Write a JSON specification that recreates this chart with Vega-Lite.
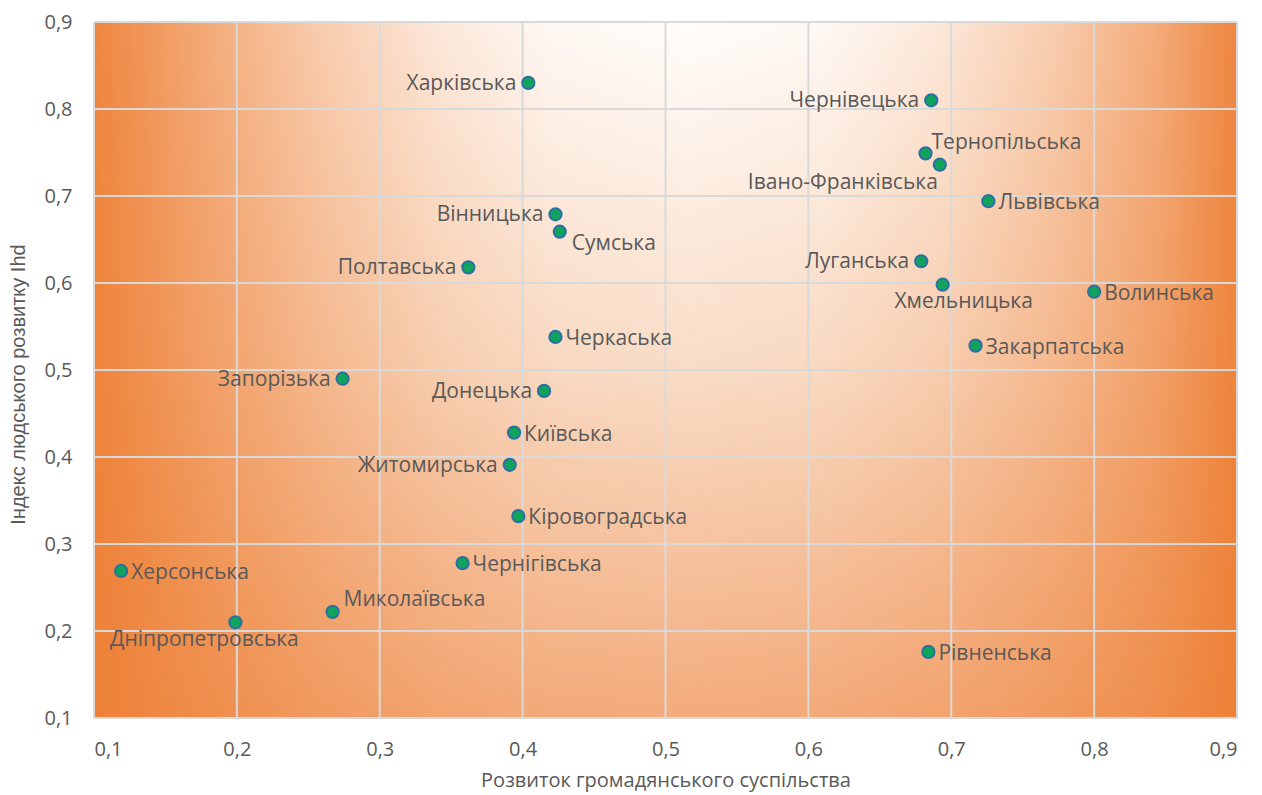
{
  "$schema": "https://vega.github.io/schema/vega-lite/v6.json",
  "width": 1143,
  "height": 696,
  "autosize": "none",
  "padding": {"left": 94, "top": 22, "right": 25, "bottom": 77},
  "background": "white",
  "config": {
    "view": {"stroke": "#d4d4d4", "strokeWidth": 1},
    "font": "Open Sans",
    "axis": {
      "grid": false, "ticks": false, "domain": false,
      "labelFont": "Open Sans", "labelFontSize": 20, "labelColor": "#595959",
      "titleColor": "#595959", "titleFontWeight": "normal"
    }
  },
  "datasets": {
    "bg": [{"x0": 0.1, "x1": 0.9, "y0": 0.1, "y1": 0.9}],
    "grid": [{"v": 0.1}, {"v": 0.2}, {"v": 0.3}, {"v": 0.4}, {"v": 0.5}, {"v": 0.6}, {"v": 0.7}, {"v": 0.8}, {"v": 0.9}],
    "regions": [
      {"name": "Харківська", "civil": 0.404, "ihd": 0.830},
      {"name": "Чернівецька", "civil": 0.686, "ihd": 0.810},
      {"name": "Тернопільська", "civil": 0.682, "ihd": 0.749},
      {"name": "Івано-Франківська", "civil": 0.692, "ihd": 0.736},
      {"name": "Львівська", "civil": 0.726, "ihd": 0.694},
      {"name": "Вінницька", "civil": 0.423, "ihd": 0.679},
      {"name": "Сумська", "civil": 0.426, "ihd": 0.659},
      {"name": "Полтавська", "civil": 0.362, "ihd": 0.618},
      {"name": "Луганська", "civil": 0.679, "ihd": 0.625},
      {"name": "Хмельницька", "civil": 0.694, "ihd": 0.598},
      {"name": "Волинська", "civil": 0.800, "ihd": 0.590},
      {"name": "Черкаська", "civil": 0.423, "ihd": 0.538},
      {"name": "Закарпатська", "civil": 0.717, "ihd": 0.528},
      {"name": "Запорізька", "civil": 0.274, "ihd": 0.490},
      {"name": "Донецька", "civil": 0.415, "ihd": 0.476},
      {"name": "Київська", "civil": 0.394, "ihd": 0.428},
      {"name": "Житомирська", "civil": 0.391, "ihd": 0.391},
      {"name": "Кіровоградська", "civil": 0.397, "ihd": 0.332},
      {"name": "Чернігівська", "civil": 0.358, "ihd": 0.278},
      {"name": "Херсонська", "civil": 0.119, "ihd": 0.269},
      {"name": "Миколаївська", "civil": 0.267, "ihd": 0.222},
      {"name": "Дніпропетровська", "civil": 0.199, "ihd": 0.210},
      {"name": "Рівненська", "civil": 0.684, "ihd": 0.176}
    ]
  },
  "resolve": {"scale": {"x": "shared", "y": "shared"}},
  "layer": [
    {
      "data": {"name": "bg"},
      "mark": {
        "type": "rect",
        "fill": {
          "gradient": "linear", "x1": 0, "y1": 0, "x2": 0, "y2": 1,
          "stops": [
            {"offset": 0, "color": "#fffdfb"},
            {"offset": 0.5, "color": "#f9dcc6"},
            {"offset": 1, "color": "#f3ab7b"}
          ]
        }
      },
      "encoding": {
        "x": {
          "field": "x0", "type": "quantitative",
          "scale": {"domain": [0.1, 0.9], "nice": false, "zero": false},
          "axis": {
            "values": [0.1, 0.2, 0.3, 0.4, 0.5, 0.6, 0.7, 0.8, 0.9],
            "labelExpr": "replace(format(datum.value, '.1f'), '.', ',')",
            "labelPadding": 21,
            "title": "Розвиток громадянського суспільства",
            "titleFont": "Open Sans", "titleFontSize": 20,
            "titleBaseline": "middle", "titleY": 62
          }
        },
        "x2": {"field": "x1"},
        "y": {
          "field": "y0", "type": "quantitative",
          "scale": {"domain": [0.1, 0.9], "nice": false, "zero": false},
          "axis": {
            "values": [0.1, 0.2, 0.3, 0.4, 0.5, 0.6, 0.7, 0.8, 0.9],
            "labelExpr": "replace(format(datum.value, '.1f'), '.', ',')",
            "labelPadding": 22,
            "title": "Індекс людського розвитку Ihd",
            "titleFont": "Liberation Sans", "titleFontSize": 20,
            "titleBaseline": "middle", "titleX": -76, "titleY": 362
          }
        },
        "y2": {"field": "y1"}
      }
    },
    {
      "data": {"name": "bg"},
      "mark": {
        "type": "rect",
        "fill": {
          "gradient": "linear", "x1": 0, "y1": 0, "x2": 1, "y2": 0,
          "stops": [
            {"offset": 0, "color": "rgba(237,125,49,0.93)"},
            {"offset": 0.1, "color": "rgba(237,125,49,0.64)"},
            {"offset": 0.2, "color": "rgba(237,125,49,0.38)"},
            {"offset": 0.3, "color": "rgba(237,125,49,0.17)"},
            {"offset": 0.4, "color": "rgba(237,125,49,0.04)"},
            {"offset": 0.52, "color": "rgba(237,125,49,0)"},
            {"offset": 0.64, "color": "rgba(237,125,49,0.04)"},
            {"offset": 0.74, "color": "rgba(237,125,49,0.17)"},
            {"offset": 0.84, "color": "rgba(237,125,49,0.38)"},
            {"offset": 0.93, "color": "rgba(237,125,49,0.64)"},
            {"offset": 1, "color": "rgba(237,125,49,0.93)"}
          ]
        }
      },
      "encoding": {
        "x": {"field": "x0", "type": "quantitative"},
        "x2": {"field": "x1"},
        "y": {"field": "y0", "type": "quantitative"},
        "y2": {"field": "y1"}
      }
    },
    {
      "data": {"name": "grid"},
      "mark": {"type": "rule", "color": "#d9d9d9", "strokeWidth": 2},
      "encoding": {"x": {"field": "v", "type": "quantitative"}}
    },
    {
      "data": {"name": "grid"},
      "mark": {"type": "rule", "color": "#d9d9d9", "strokeWidth": 2},
      "encoding": {"y": {"field": "v", "type": "quantitative"}}
    },
    {
      "data": {"name": "regions"},
      "mark": {"type": "circle", "size": 150, "fill": "#0fa35b", "stroke": "#2e6fa3", "strokeWidth": 2, "opacity": 1},
      "encoding": {
        "x": {"field": "civil", "type": "quantitative"},
        "y": {"field": "ihd", "type": "quantitative"}
      }
    },
    {
      "data": {"name": "regions"},
      "transform": [{"filter": {"field": "name", "oneOf": ["Львівська", "Волинська", "Черкаська", "Закарпатська", "Київська", "Кіровоградська", "Чернігівська", "Херсонська", "Рівненська"]}}],
      "mark": {"type": "text", "align": "left", "baseline": "middle", "dx": 10, "dy": 2, "fontSize": 21, "font": "Open Sans", "color": "#595959"},
      "encoding": {
        "x": {"field": "civil", "type": "quantitative"},
        "y": {"field": "ihd", "type": "quantitative"},
        "text": {"field": "name"}
      }
    },
    {
      "data": {"name": "regions"},
      "transform": [{"filter": {"field": "name", "oneOf": ["Харківська", "Чернівецька", "Вінницька", "Полтавська", "Луганська", "Запорізька", "Донецька", "Житомирська"]}}],
      "mark": {"type": "text", "align": "right", "baseline": "middle", "dx": -12, "dy": 1, "fontSize": 21, "font": "Open Sans", "color": "#595959"},
      "encoding": {
        "x": {"field": "civil", "type": "quantitative"},
        "y": {"field": "ihd", "type": "quantitative"},
        "text": {"field": "name"}
      }
    },
    {
      "data": {"name": "regions"},
      "transform": [{"filter": {"field": "name", "oneOf": ["Тернопільська"]}}],
      "mark": {"type": "text", "align": "left", "baseline": "middle", "dx": 6, "dy": -10, "fontSize": 21, "font": "Open Sans", "color": "#595959"},
      "encoding": {
        "x": {"field": "civil", "type": "quantitative"},
        "y": {"field": "ihd", "type": "quantitative"},
        "text": {"field": "name"}
      }
    },
    {
      "data": {"name": "regions"},
      "transform": [{"filter": {"field": "name", "oneOf": ["Сумська"]}}],
      "mark": {"type": "text", "align": "left", "baseline": "middle", "dx": 12, "dy": 12, "fontSize": 21, "font": "Open Sans", "color": "#595959"},
      "encoding": {
        "x": {"field": "civil", "type": "quantitative"},
        "y": {"field": "ihd", "type": "quantitative"},
        "text": {"field": "name"}
      }
    },
    {
      "data": {"name": "regions"},
      "transform": [{"filter": {"field": "name", "oneOf": ["Миколаївська"]}}],
      "mark": {"type": "text", "align": "left", "baseline": "middle", "dx": 11, "dy": -12, "fontSize": 21, "font": "Open Sans", "color": "#595959"},
      "encoding": {
        "x": {"field": "civil", "type": "quantitative"},
        "y": {"field": "ihd", "type": "quantitative"},
        "text": {"field": "name"}
      }
    },
    {
      "data": {"name": "regions"},
      "transform": [{"filter": {"field": "name", "oneOf": ["Івано-Франківська"]}}],
      "mark": {"type": "text", "align": "right", "baseline": "middle", "dx": -2, "dy": 18, "fontSize": 21, "font": "Open Sans", "color": "#595959"},
      "encoding": {
        "x": {"field": "civil", "type": "quantitative"},
        "y": {"field": "ihd", "type": "quantitative"},
        "text": {"field": "name"}
      }
    },
    {
      "data": {"name": "regions"},
      "transform": [{"filter": {"field": "name", "oneOf": ["Хмельницька"]}}],
      "mark": {"type": "text", "align": "center", "baseline": "middle", "dx": 21, "dy": 17, "fontSize": 21, "font": "Open Sans", "color": "#595959"},
      "encoding": {
        "x": {"field": "civil", "type": "quantitative"},
        "y": {"field": "ihd", "type": "quantitative"},
        "text": {"field": "name"}
      }
    },
    {
      "data": {"name": "regions"},
      "transform": [{"filter": {"field": "name", "oneOf": ["Дніпропетровська"]}}],
      "mark": {"type": "text", "align": "center", "baseline": "middle", "dx": -31, "dy": 18, "fontSize": 21, "font": "Open Sans", "color": "#595959"},
      "encoding": {
        "x": {"field": "civil", "type": "quantitative"},
        "y": {"field": "ihd", "type": "quantitative"},
        "text": {"field": "name"}
      }
    }
  ]
}
